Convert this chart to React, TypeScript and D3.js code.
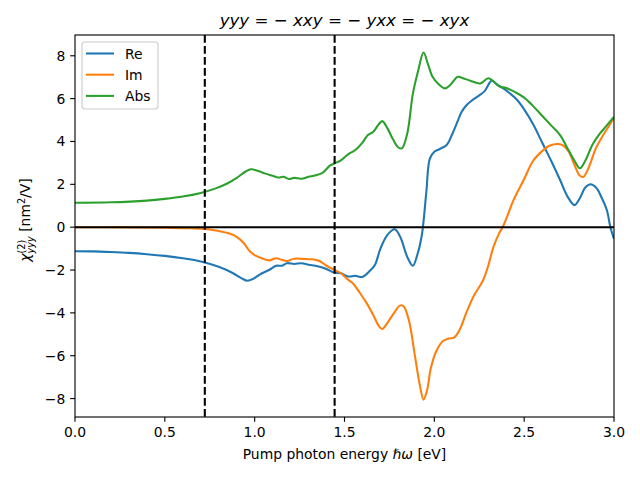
import React from "react";
import * as d3 from "d3";

const reE = [0,0.1,0.2,0.3,0.4,0.5,0.6,0.7,0.8,0.88,0.93,0.96,0.99,1.03,1.08,1.12,1.15,1.18,1.22,1.26,1.3,1.35,1.4,1.44,1.48,1.52,1.56,1.6,1.64,1.67,1.7,1.74,1.78,1.81,1.85,1.88,1.905,1.93,1.955,1.975,2.0,2.03,2.07,2.1,2.13,2.15,2.18,2.21,2.25,2.28,2.32,2.35,2.38,2.42,2.46,2.5,2.55,2.6,2.65,2.7,2.74,2.78,2.81,2.84,2.87,2.9,2.93,2.96,2.98,3.0];
const reV = [-1.12,-1.13,-1.16,-1.2,-1.26,-1.34,-1.45,-1.6,-1.85,-2.15,-2.4,-2.5,-2.42,-2.2,-2.0,-1.8,-1.8,-1.68,-1.72,-1.68,-1.75,-1.82,-1.95,-2.12,-2.15,-2.3,-2.27,-2.32,-2.05,-1.75,-1.0,-0.35,-0.1,-0.45,-1.4,-1.8,-1.3,-0.4,1.6,3.2,3.52,3.65,3.85,4.35,4.95,5.35,5.7,5.92,6.15,6.35,6.84,6.65,6.5,6.25,5.95,5.5,4.8,3.95,3.1,2.2,1.45,1.03,1.35,1.85,2.0,1.85,1.4,0.8,0.0,-0.55];

const imE = [0,0.3,0.5,0.65,0.72,0.8,0.86,0.9,0.94,0.97,1.0,1.04,1.08,1.12,1.15,1.18,1.22,1.27,1.32,1.36,1.4,1.44,1.48,1.52,1.55,1.58,1.62,1.66,1.69,1.71,1.74,1.78,1.81,1.83,1.86,1.89,1.92,1.94,1.96,1.98,2.01,2.05,2.08,2.11,2.14,2.18,2.22,2.27,2.3,2.33,2.36,2.38,2.41,2.44,2.5,2.55,2.6,2.64,2.69,2.72,2.75,2.78,2.81,2.83,2.86,2.9,2.94,2.97,3.0];
const imV = [0,-0.01,-0.02,-0.05,-0.08,-0.18,-0.3,-0.45,-0.75,-1.1,-1.3,-1.45,-1.55,-1.45,-1.52,-1.58,-1.47,-1.48,-1.5,-1.58,-1.8,-1.98,-2.15,-2.45,-2.65,-3.0,-3.5,-4.1,-4.6,-4.75,-4.45,-3.95,-3.65,-3.7,-4.4,-5.9,-7.4,-8.05,-7.6,-6.6,-5.8,-5.3,-5.2,-5.15,-4.8,-3.95,-3.2,-2.5,-1.8,-0.9,-0.3,0.0,0.6,1.25,2.25,3.1,3.55,3.8,3.88,3.8,3.5,2.9,2.4,2.35,2.8,3.7,4.3,4.7,5.1];

const absE = [0,0.2,0.4,0.5,0.6,0.7,0.78,0.85,0.9,0.95,0.98,1.02,1.06,1.1,1.13,1.16,1.19,1.22,1.26,1.3,1.34,1.38,1.42,1.45,1.48,1.52,1.56,1.6,1.63,1.66,1.69,1.71,1.74,1.77,1.8,1.82,1.85,1.88,1.91,1.94,1.965,1.99,2.02,2.06,2.09,2.13,2.16,2.2,2.255,2.3,2.33,2.365,2.4,2.45,2.5,2.55,2.6,2.65,2.7,2.74,2.78,2.81,2.84,2.88,2.92,2.96,3.0];
const absV = [1.14,1.16,1.24,1.32,1.43,1.6,1.8,2.05,2.3,2.6,2.7,2.62,2.5,2.4,2.32,2.35,2.25,2.3,2.26,2.35,2.42,2.55,2.88,3.0,3.12,3.4,3.6,3.95,4.3,4.45,4.8,4.95,4.6,4.1,3.72,3.68,4.4,6.2,7.3,8.15,7.6,7.02,6.71,6.48,6.65,7.02,6.95,6.84,6.71,6.95,6.8,6.56,6.5,6.3,6.05,5.65,5.2,4.75,4.3,3.7,3.1,2.75,3.1,3.85,4.35,4.75,5.15];

const seriesNames = ["Re", "Im", "Abs"];
const seriesColors = ["#1f77b4", "#ff7f0e", "#2ca02c"];
const xTicks = [0, 0.5, 1.0, 1.5, 2.0, 2.5, 3.0];
const yTicks = [-8, -6, -4, -2, 0, 2, 4, 6, 8];
const vLines = [0.7225, 1.445];

export default function App() {
  const W = 640, H = 480;
  const L = 75, R = 614, T = 35, B = 417;
  const x = d3.scaleLinear().domain([0, 3]).range([L, R]);
  const y = d3.scaleLinear().domain([-8.86, 8.97]).range([B, T]);
  const font = "DejaVu Sans";
  const fs = 13.9;
  const line = d3.line<[number, number]>().x(d => x(d[0])).y(d => y(d[1])).curve(d3.curveCatmullRom.alpha(0.5));
  const series = [
    reE.map((e, i) => [e, reV[i]] as [number, number]),
    imE.map((e, i) => [e, imV[i]] as [number, number]),
    absE.map((e, i) => [e, absV[i]] as [number, number]),
  ];
  const tl = 4.86;
  return (
    <svg width={W} height={H} style={{ display: "block", position: "absolute", left: 0, top: 0 }} fontFamily={font}>
      <rect x={0} y={0} width={W} height={H} fill="#fff" />
      <defs>
        <clipPath id="plotclip"><rect x={L} y={T} width={R - L} height={B - T} /></clipPath>
      </defs>
      <g clipPath="url(#plotclip)">
        {series.map((s, i) => (
          <path key={i} d={line(s) || ""} fill="none" stroke={seriesColors[i]} strokeWidth={2.08} strokeLinejoin="round" />
        ))}
        <line x1={L} x2={R} y1={y(0)} y2={y(0)} stroke="#000" strokeWidth={2.08} />
        {vLines.map((v, i) => (
          <line key={i} x1={x(v)} x2={x(v)} y1={T} y2={B} stroke="#000" strokeWidth={2.08} strokeDasharray="7.7,3.3" />
        ))}
      </g>
      <rect x={L} y={T} width={R - L} height={B - T} fill="none" stroke="#000" strokeWidth={1.11} />
      {xTicks.map((t, i) => (
        <g key={i}>
          <line x1={x(t)} x2={x(t)} y1={B} y2={B + tl} stroke="#000" strokeWidth={1.11} />
          <text x={x(t)} y={B + tl + 4.86 + 10.6} fontSize={fs} textAnchor="middle" fill="#000">{t.toFixed(1)}</text>
        </g>
      ))}
      {yTicks.map((t, i) => (
        <g key={i}>
          <line x1={L - tl} x2={L} y1={y(t)} y2={y(t)} stroke="#000" strokeWidth={1.11} />
          <text x={L - tl - 4.86} y={y(t) + 5} fontSize={fs} textAnchor="end" fill="#000">{t < 0 ? "\u2212" + Math.abs(t) : String(t)}</text>
        </g>
      ))}
      <text x={(L + R) / 2} y={459} fontSize={fs} textAnchor="middle" fill="#000">
        Pump photon energy <tspan fontStyle="italic">ℏω</tspan> [eV]
      </text>
      <g transform={`translate(30, ${(T + B) / 2}) rotate(-90)`}>
        <text x={6} y={0} fontSize={fs} textAnchor="middle" fill="#000">
          <tspan fontStyle="italic">χ</tspan>
          <tspan fontSize={9.7} dy={-5.5}>(2)</tspan>
          <tspan fontSize={9.7} fontStyle="italic" dx={-13.7} dy={9}>yyy</tspan>
          <tspan dy={-3.5}> [nm</tspan>
          <tspan fontSize={9.7} dy={-5.5}>2</tspan>
          <tspan dy={5.5}>/V]</tspan>
        </text>
      </g>
      <text x={(L + R) / 2} y={25.5} fontSize={16.67} textAnchor="middle" fill="#000">
        <tspan fontStyle="italic">yyy</tspan>
        <tspan> = − </tspan>
        <tspan fontStyle="italic">xxy</tspan>
        <tspan> = − </tspan>
        <tspan fontStyle="italic">yxx</tspan>
        <tspan> = − </tspan>
        <tspan fontStyle="italic">xyx</tspan>
      </text>
      <g>
        <rect x={82} y={42} width={76} height={67} rx={3} fill="#fff" fillOpacity={0.8} stroke="#cccccc" strokeWidth={1.11} />
        {seriesNames.map((n, i) => (
          <g key={i}>
            <line x1={86} x2={114} y1={53.5 + i * 21.2} y2={53.5 + i * 21.2} stroke={seriesColors[i]} strokeWidth={2.08} />
            <text x={125} y={53.5 + i * 21.2 + 5} fontSize={fs} fill="#000">{n}</text>
          </g>
        ))}
      </g>
    </svg>
  );
}
